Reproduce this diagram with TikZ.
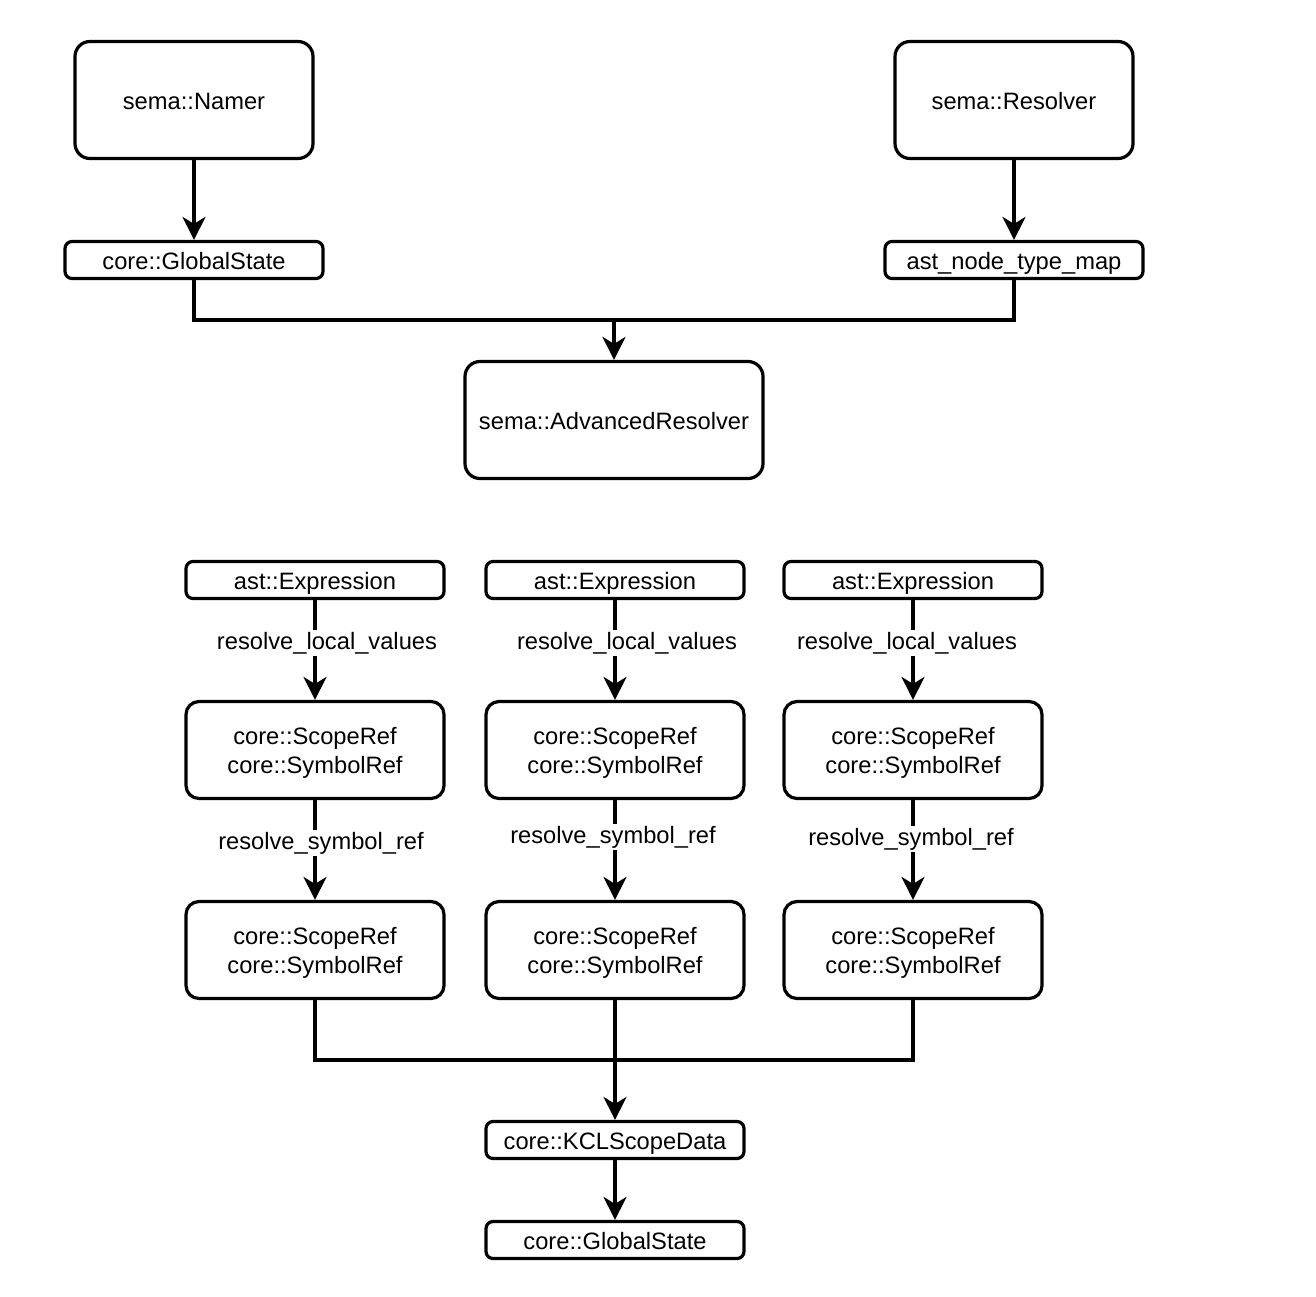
\documentclass[tikz,border=0pt]{standalone}
\usepackage{fontspec}
\setmainfont{Liberation Sans}
\usetikzlibrary{arrows.meta}
\newcommand{\topstrut}{\rule{0pt}{23.3pt}}
\begin{document}
\begin{tikzpicture}[x=1pt,y=-1pt,
  font=\fontsize{23.7}{29}\selectfont,
  every node/.style={text=black},
  bigbox/.style={draw, line width=3.2pt, rounded corners=15pt, fill=white,
    minimum width=238pt, minimum height=117pt, align=center, inner sep=0pt,
    text height=22pt, text depth=3.4pt},
  smallbox/.style={draw, line width=3.2pt, rounded corners=7pt, fill=white,
    minimum width=258pt, minimum height=37pt, align=center, inner sep=0pt,
    text height=22pt, text depth=3.4pt},
  refbox/.style={draw, line width=3.2pt, rounded corners=13pt, fill=white,
    minimum width=258pt, minimum height=97pt, align=center, inner sep=0pt},
  conn/.style={line width=3.2pt, line join=miter},
  arr/.style={conn, -{Stealth[length=23pt,width=23pt,inset=7pt]}},
  lbl/.style={fill=white, inner sep=2pt}
]
\useasboundingbox (0,0) rectangle (1316,1296);

% top part
\node[bigbox] (namer) at (194,100) {sema::Namer};
\node[bigbox] (resolver) at (1014,100) {sema::Resolver};
\node[smallbox] (gs1) at (194,260) {core::GlobalState};
\node[smallbox] (map) at (1014,260) {ast\_node\_type\_map};
\node[bigbox, minimum width=298pt] (adv) at (614,420) {sema::AdvancedResolver};
\coordinate (j1) at (614,320);

\draw[arr] (namer) -- (gs1);
\draw[arr] (resolver) -- (map);
\draw[conn] (gs1.south) |- (j1);
\draw[conn] (map.south) |- (j1);
\draw[arr] (j1) -- (adv);

% bottom part
\node[smallbox] (e1) at (315,580) {ast::Expression};
\node[smallbox] (e2) at (615,580) {ast::Expression};
\node[smallbox] (e3) at (913,580) {ast::Expression};
\node[refbox] (a1) at (315,750) {\topstrut core::ScopeRef\\core::SymbolRef};
\node[refbox] (a2) at (615,750) {\topstrut core::ScopeRef\\core::SymbolRef};
\node[refbox] (a3) at (913,750) {\topstrut core::ScopeRef\\core::SymbolRef};
\node[refbox] (b1) at (315,950) {\topstrut core::ScopeRef\\core::SymbolRef};
\node[refbox] (b2) at (615,950) {\topstrut core::ScopeRef\\core::SymbolRef};
\node[refbox] (b3) at (913,950) {\topstrut core::ScopeRef\\core::SymbolRef};
\node[smallbox] (kcl) at (615,1140) {core::KCLScopeData};
\node[smallbox] (gs2) at (615,1240) {core::GlobalState};
\coordinate (j2) at (615,1060);

\draw[arr] (e1) -- node[lbl, pos=0.43, xshift=12pt] {resolve\_local\_values} (a1);
\draw[arr] (e2) -- node[lbl, pos=0.43, xshift=12pt] {resolve\_local\_values} (a2);
\draw[arr] (e3) -- node[lbl, pos=0.43, xshift=-6pt] {resolve\_local\_values} (a3);
\draw[arr] (a1) -- node[lbl, pos=0.43, xshift=6pt] {resolve\_symbol\_ref} (b1);
\draw[arr] (a2) -- node[lbl, pos=0.37, xshift=-2pt] {resolve\_symbol\_ref} (b2);
\draw[arr] (a3) -- node[lbl, pos=0.39, xshift=-2pt] {resolve\_symbol\_ref} (b3);

\draw[conn] (b1.south) |- (j2);
\draw[conn] (b3.south) |- (j2);
\draw[arr] (b2) -- (kcl);
\draw[arr] (kcl) -- (gs2);
\end{tikzpicture}
\end{document}
